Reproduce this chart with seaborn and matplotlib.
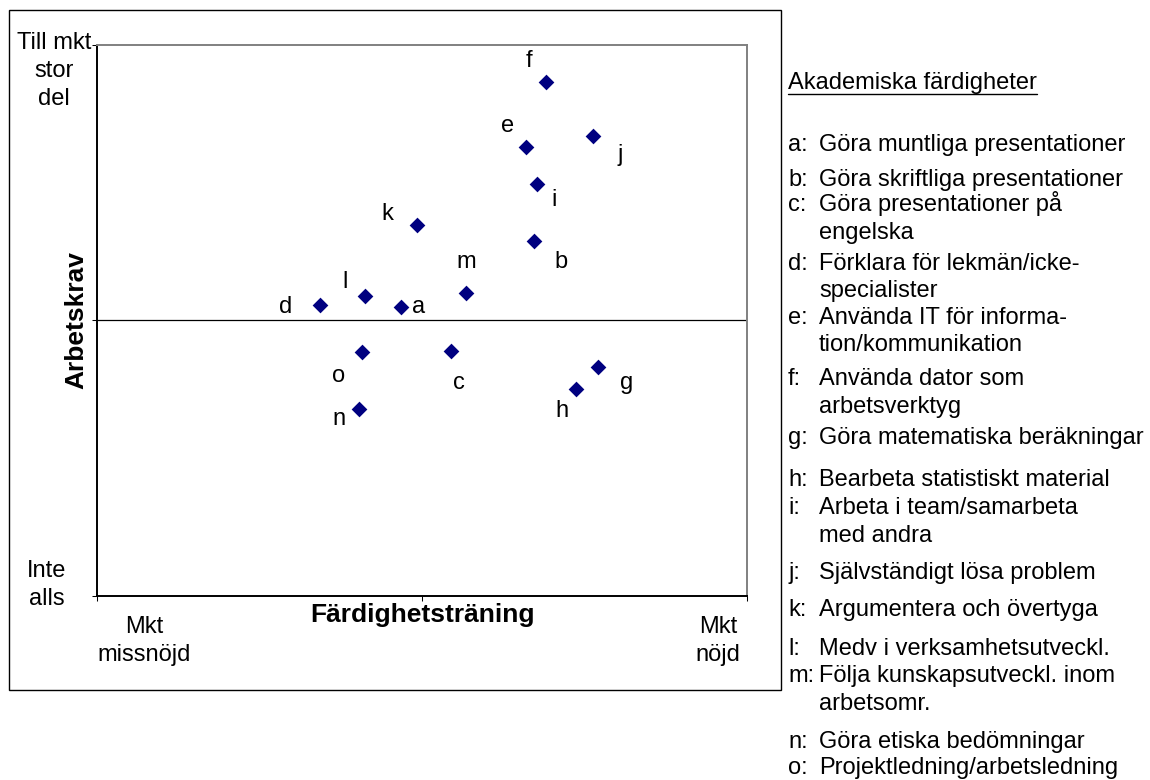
#!/usr/bin/env python3
# -*- coding: utf-8 -*-
"""
Akademiska färdigheter: arbetskrav mot färdighetsträning
"""

import pandas as pd
import matplotlib
matplotlib.use('Agg')
import matplotlib.pyplot as plt
from matplotlib.patches import Rectangle
from matplotlib.lines import Line2D
import seaborn as sns

# === DATA ===
skill_codes = ['a', 'b', 'c', 'd', 'e', 'f', 'g', 'h', 'i', 'j', 'k', 'l', 'm', 'n', 'o']

# Färdighetsträning (1 = mkt missnöjd, 5 = mkt nöjd)
training = [2.87, 3.69, 3.18, 2.37, 3.64, 3.76, 4.08, 3.95, 3.71, 4.05,
            2.97, 2.65, 3.27, 2.61, 2.63]

# Arbetskrav (1 = inte alls, 5 = till mkt stor del)
demand = [3.10, 3.58, 2.78, 3.11, 4.26, 4.73, 2.66, 2.50, 3.99, 4.34,
          3.69, 3.18, 3.20, 2.36, 2.77]

skill_names = [
    'Göra muntliga presentationer',
    'Göra skriftliga presentationer',
    'Göra presentationer på\nengelska',
    'Förklara för lekmän/icke-\nspecialister',
    'Använda IT för informa-\ntion/kommunikation',
    'Använda dator som\narbetsverktyg',
    'Göra matematiska beräkningar',
    'Bearbeta statistiskt material',
    'Arbeta i team/samarbeta\nmed andra',
    'Självständigt lösa problem',
    'Argumentera och övertyga',
    'Medv i verksamhetsutveckl.',
    'Följa kunskapsutveckl. inom\narbetsomr.',
    'Göra etiska bedömningar',
    'Projektledning/arbetsledning',
]

x_ticks = [1, 3, 5]
y_ticks = [1, 3, 5]
x_low_label = 'Mkt\nmissnöjd'
x_high_label = 'Mkt\nnöjd'
y_low_label = 'Inte\nalls'
y_high_label = 'Till mkt\nstor\ndel'
x_title = 'Färdighetsträning'
y_title = 'Arbetskrav'
legend_title = 'Akademiska färdigheter'

# === LAYOUT (pixels) ===
W, H = 1150, 780
# letter offsets from each marker (dx, dy), dy positive downwards
label_offsets = [(18, 0), (27, 21), (8, 32), (-34, 2), (-18, -21), (-17, -21),
                 (29, 16), (-14, 22), (17, 16), (28, 19), (-30, -11), (-20, -14),
                 (0, -31), (-20, 10), (-23, 24)]
# baseline of first line of each legend entry
legend_baselines = [151, 186, 211, 270, 324, 385, 444, 486, 514, 579,
                    616, 655, 682, 748, 774]
LINE_STEP = 27.5  # pixels between wrapped lines in the key
ASC = 17     # approx. distance from text top to baseline
LSP = 1.36   # line spacing for multi-line texts


def fx(px):
    return px / W


def fy(py):
    return 1 - py / H


def main():
    sns.set_style('white')
    plt.rcParams['font.family'] = ['Liberation Sans', 'DejaVu Sans']
    plt.rcParams['text.color'] = 'black'
    plt.rcParams['axes.labelcolor'] = 'black'
    fs = 17

    df = pd.DataFrame({'code': skill_codes, 'training': training, 'demand': demand})

    fig = plt.figure(figsize=(W / 100, H / 100), dpi=100)
    ax = fig.add_axes([fx(97), fy(596), (747 - 97) / W, (596 - 45) / H])

    ax.axhline(3, color='black', lw=0.9, zorder=1)
    sns.scatterplot(data=df, x='training', y='demand', marker='D', s=64,
                    color='#000080', linewidth=0, ax=ax, legend=False, zorder=3)

    for code, x, y, (dx, dy) in zip(skill_codes, training, demand, label_offsets):
        ax.annotate(code, (x, y), xytext=(dx * 0.72, -dy * 0.72),
                    textcoords='offset points', ha='center', va='center',
                    fontsize=fs, color='black')

    ax.set_xlim(1, 5)
    ax.set_ylim(1, 5)
    ax.set_xticks(x_ticks)
    ax.set_yticks(y_ticks)
    ax.set_xticklabels([''] * len(x_ticks))
    ax.set_yticklabels([''] * len(y_ticks))
    ax.tick_params(direction='out', length=3.5, width=0.75, color='black',
                   bottom=True, left=True)

    for side in ['left', 'bottom']:
        ax.spines[side].set_color('black')
        ax.spines[side].set_linewidth(1.4)
    for side in ['top', 'right']:
        ax.spines[side].set_color('#808080')
        ax.spines[side].set_linewidth(1.4)

    # axis titles
    ax.set_xlabel(x_title, fontsize=19, fontweight='bold', color='black')
    ax.xaxis.set_label_coords(0.5, (596 - 622) / 551)
    ax.xaxis.label.set_va('baseline')
    ax.set_ylabel(y_title, fontsize=19, fontweight='bold', color='black')
    ax.yaxis.set_label_coords((83 - 97) / 650, 0.5)
    ax.yaxis.label.set_va('baseline')

    # end labels of the scales
    fig.text(fx(54), fy(49 - ASC), y_high_label, ha='center', va='top',
             fontsize=fs, linespacing=LSP)
    fig.text(fx(47), fy(577 - ASC), y_low_label, ha='center', va='top',
             fontsize=fs, linespacing=LSP)
    fig.text(fx(144), fy(633 - ASC), x_low_label, ha='center', va='top',
             fontsize=fs, linespacing=LSP)
    fig.text(fx(718), fy(633 - ASC), x_high_label, ha='center', va='top',
             fontsize=fs, linespacing=LSP)

    # outer frame round the chart
    fig.add_artist(Rectangle((fx(9), fy(690)), (781 - 9) / W, (690 - 10) / H,
                             transform=fig.transFigure, fill=False,
                             edgecolor='black', lw=1.0))

    # key of skills, one text per line so the baselines line up
    title_base = 89
    t = fig.text(fx(788), fy(title_base), legend_title, ha='left', va='baseline',
                 fontsize=fs)
    for code, name, base in zip(skill_codes, skill_names, legend_baselines):
        fig.text(fx(788), fy(base), f'{code}:', ha='left', va='baseline', fontsize=fs)
        for k, line in enumerate(name.split('\n')):
            fig.text(fx(819), fy(base + k * LINE_STEP), line, ha='left',
                     va='baseline', fontsize=fs)

    fig.canvas.draw()
    bb = t.get_window_extent()
    y_line = fy(title_base + 5)
    fig.add_artist(Line2D([bb.x0 / W, bb.x1 / W], [y_line, y_line],
                          transform=fig.transFigure, color='black', lw=1.0))

    fig.savefig('out.png', dpi=100)
    plt.close(fig)


if __name__ == "__main__":
    main()
